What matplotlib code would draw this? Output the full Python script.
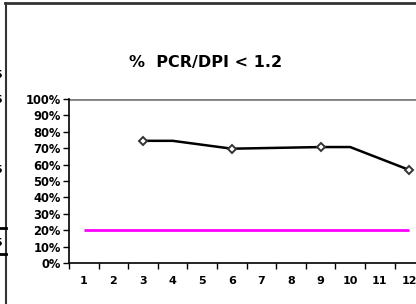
import numpy as np
import matplotlib.pyplot as plt
from matplotlib.lines import Line2D

plt.rcParams['font.family'] = ['DejaVu Sans']

# datos
meses = [3, 4, 6, 9, 10, 12]
pct = [0.745, 0.745, 0.697, 0.707, 0.707, 0.567]
marcas = [0, 2, 3, 5]  # puntos con marcador (3, 6, 9, 12)
meta_x = list(range(1, 13))
meta = [0.20] * 12
etiquetas_x = [str(i) for i in range(1, 13)]
etiquetas_y = ['0%', '10%', '20%', '30%', '40%', '50%', '60%', '70%', '80%', '90%', '100%']

fig = plt.figure(figsize=(4.16, 3.04), dpi=100)
W, H = 416, 304

ax = fig.add_axes([69 / W, 1 - 263 / H, 355.2 / W, 164 / H])
ax.set_xlim(0.5, 12.5)
ax.set_ylim(0, 1)

ax.plot(meta_x, meta, color='#ff00ff', lw=2, solid_capstyle='butt', zorder=2)
ax.plot(meses, pct, color='black', lw=1.8, marker='D', markersize=4.5,
        markerfacecolor='white', markeredgecolor='#333333', markeredgewidth=1.4,
        markevery=marcas, zorder=3)

ax.axhline(1.0, color='#808080', lw=2, zorder=1)

for s in ['top', 'right']:
    ax.spines[s].set_visible(False)
for s in ['left', 'bottom']:
    ax.spines[s].set_color('black')
    ax.spines[s].set_linewidth(1.2)

ax.set_yticks(np.arange(0, 1.01, 0.1))
ax.set_yticklabels(etiquetas_y, fontsize=8.3, fontweight='bold')
ax.set_xticks(np.arange(0.5, 12.6, 1))
ax.set_xticklabels([])
ax.set_xticks(range(1, 13), minor=True)
ax.set_xticklabels(etiquetas_x, minor=True, fontsize=8, fontweight='bold')
ax.tick_params(axis='x', which='major', direction='out', length=4, width=1, color='black')
ax.tick_params(axis='x', which='minor', length=0, pad=9)
ax.tick_params(axis='y', direction='out', length=4, width=1, color='black', pad=2)

fig.text(206 / W, 1 - 63 / H, '%  PCR/DPI < 1.2', ha='center', va='center',
         fontsize=11.5, fontweight='bold')

# marco del grafico
fig.add_artist(Line2D([5.5 / W, 5.5 / W], [0, 1 - 3 / H], color='#333333', lw=1.5))
fig.add_artist(Line2D([5 / W, 1], [1 - 3 / H, 1 - 3 / H], color='#333333', lw=2))
# restos del grafico vecino
fig.add_artist(Line2D([0, 6 / W], [1 - 228 / H, 1 - 228 / H], color='black', lw=2))
fig.add_artist(Line2D([0, 6 / W], [1 - 254 / H, 1 - 254 / H], color='black', lw=2))
for yy in [75, 100, 170, 243]:
    fig.text(1.5 / W, 1 - yy / H, '5', ha='right', va='center', fontsize=8, fontweight='bold')

fig.savefig('out.png', dpi=100)
